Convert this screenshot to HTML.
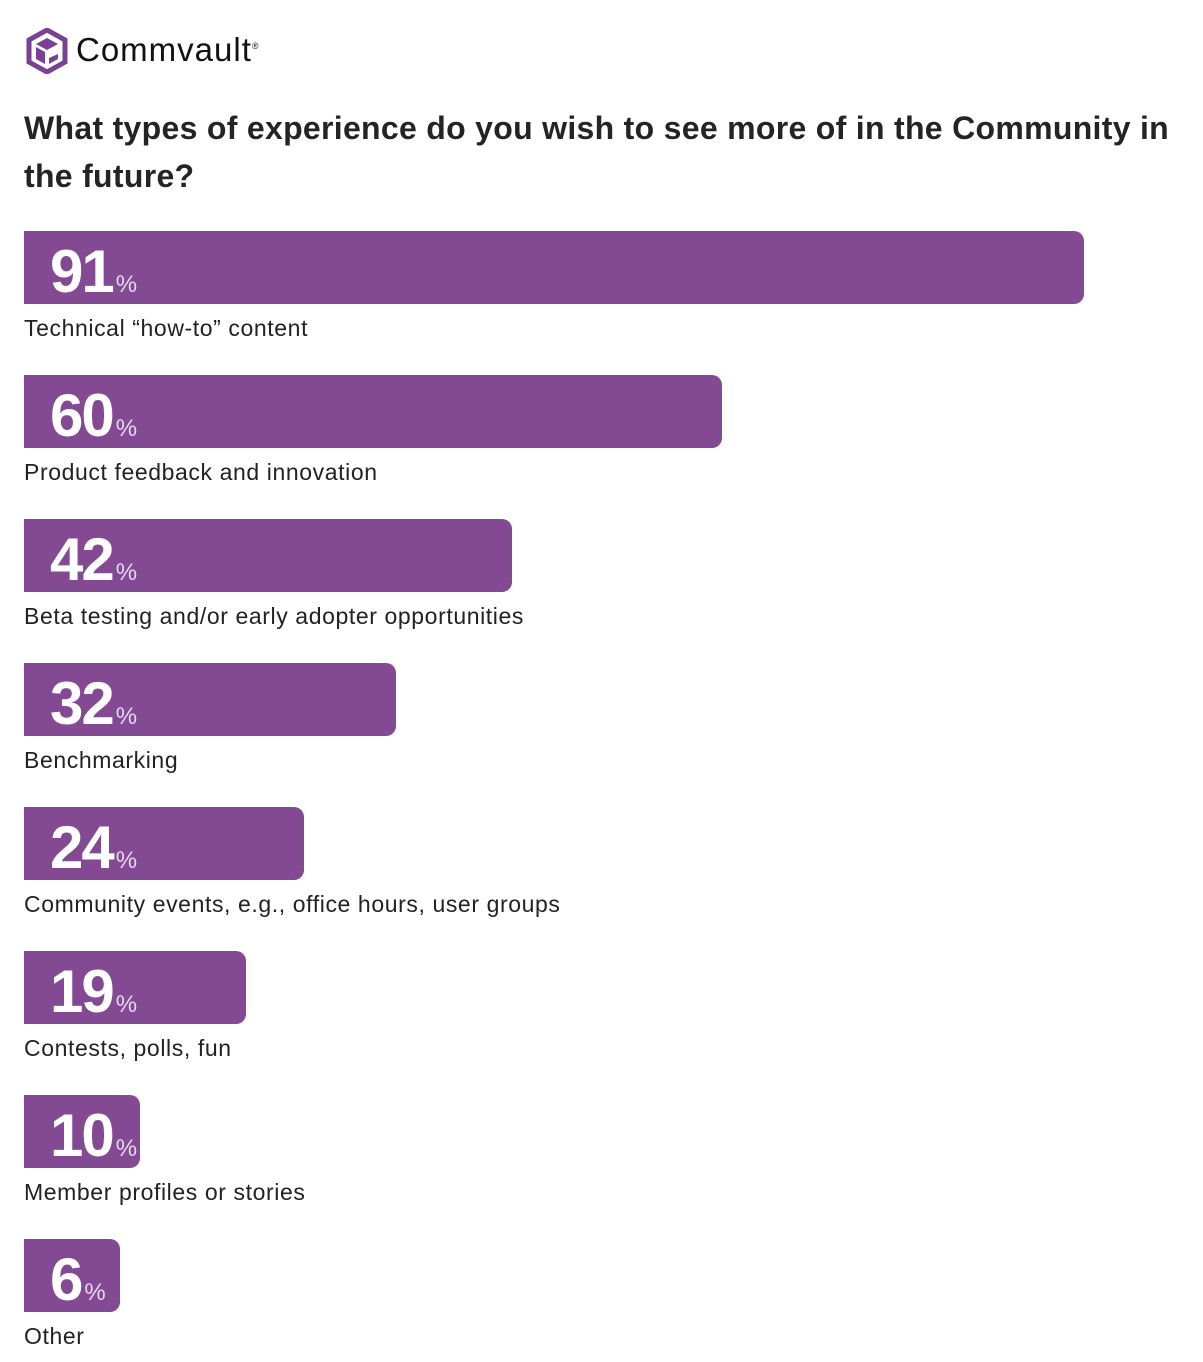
<!DOCTYPE html>
<html><head><meta charset="utf-8"><style>
body{margin:0;width:1203px;height:1362px;background:#fff;font-family:"Liberation Sans",sans-serif;position:relative;overflow:hidden;color:#222}
.logo{position:absolute;left:26px;top:28px}
.brand{position:absolute;left:76px;top:31px;font-size:33px;color:#111;letter-spacing:1px}
.title{position:absolute;left:24px;top:104px;font-size:32px;font-weight:bold;line-height:48px;width:1175px;color:#242424;letter-spacing:0.3px}
.bar{position:absolute;left:24px;height:73px;background:#834a93;border-radius:0 10px 10px 0}
.num{position:absolute;left:26px;top:6px;font-size:60px;font-weight:bold;color:#fff;letter-spacing:-2px;white-space:nowrap;line-height:70px}
.num span{font-size:24px;color:#e8d6f0;letter-spacing:0;margin-left:3px;font-weight:normal}
.lab{position:absolute;left:24px;font-size:23px;color:#222;letter-spacing:0.6px}
</style></head><body>
<svg class="logo" width="42" height="46" viewBox="0 0 42 46"><polygon points="21,2 39,12 39,34 21,44 3,34 3,12" fill="none" stroke="#7b3f93" stroke-width="5"/><polygon points="21,10 32,16 21,22 10,16" fill="#7b3f93"/><polygon points="10,19 19,24 19,36 10,31" fill="#7b3f93"/><polygon points="23,30 32,26 32,31 23,36" fill="#7b3f93"/></svg>
<div class="brand">Commvault<sup style="font-size:9px">®</sup></div>
<div class="title">What types of experience do you wish to see more of in the Community in the future?</div>

<div class="bar" style="top:231px;width:1060px"><div class="num">91<span>%</span></div></div>
<div class="lab" style="top:315px">Technical “how-to” content</div>
<div class="bar" style="top:375px;width:698px"><div class="num">60<span>%</span></div></div>
<div class="lab" style="top:459px">Product feedback and innovation</div>
<div class="bar" style="top:519px;width:488px"><div class="num">42<span>%</span></div></div>
<div class="lab" style="top:603px">Beta testing and/or early adopter opportunities</div>
<div class="bar" style="top:663px;width:372px"><div class="num">32<span>%</span></div></div>
<div class="lab" style="top:747px">Benchmarking</div>
<div class="bar" style="top:807px;width:280px"><div class="num">24<span>%</span></div></div>
<div class="lab" style="top:891px">Community events, e.g., office hours, user groups</div>
<div class="bar" style="top:951px;width:222px"><div class="num">19<span>%</span></div></div>
<div class="lab" style="top:1035px">Contests, polls, fun</div>
<div class="bar" style="top:1095px;width:116px"><div class="num">10<span>%</span></div></div>
<div class="lab" style="top:1179px">Member profiles or stories</div>
<div class="bar" style="top:1239px;width:96px"><div class="num">6<span>%</span></div></div>
<div class="lab" style="top:1323px">Other</div>
</body></html>
